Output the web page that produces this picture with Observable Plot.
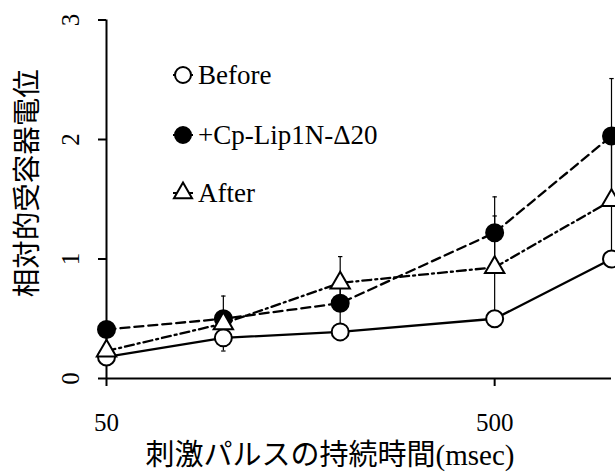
<!DOCTYPE html>
<html>
<head>
<meta charset="utf-8">
<script src="https://cdn.jsdelivr.net/npm/d3@7"></script>
<script src="https://cdn.jsdelivr.net/npm/@observablehq/plot@0.6"></script>
<style>
  html, body { margin: 0; padding: 0; background: #fff; }
  #wrap { position: relative; width: 615px; height: 472px; overflow: hidden; }
  #legend { position: absolute; left: 0; top: 0; pointer-events: none; }
  text { font-family: "Liberation Serif", "Noto Sans CJK JP", serif; }
</style>
</head>
<body>
<div id="wrap"></div>
<script>
// ---- data ----
const durations = [50, 100, 200, 500, 1000];           // msec (log axis)
const seriesNames = ["Before", "+Cp-Lip1N-Δ20", "After"];
const beforeValues = [0.18, 0.34, 0.39, 0.50, 1.00];
const cpValues     = [0.41, 0.50, 0.63, 1.22, 2.03];
const afterValues  = [0.23, 0.46, 0.80, 0.93, 1.49];
const beforeErrors = [0, 0, 0, 0, 0];
const cpErrors     = [0, 0, 0.17, 0.30, 0.48];
const afterErrors  = [0, 0.23, 0.22, 0.43, 0.49];
const xTickValues = [50, 500];
const yTickValues = [0, 1, 2, 3];
const xLabel = "刺激パルスの持続時間(msec)";
const yLabel = "相対的受容器電位";

const valueSets = [beforeValues, cpValues, afterValues];
const errorSets = [beforeErrors, cpErrors, afterErrors];
const rows = seriesNames.flatMap((s, i) =>
  durations.map((x, j) => ({series: s, x, y: valueSets[i][j], err: errorSets[i][j]})));
const errRows = rows.filter(d => d.err > 0);
const capRows = errRows.flatMap(d => [{x: d.x, y: d.y - d.err}, {x: d.x, y: d.y + d.err}]);

const styles = {
  "Before":        {dash: null,      fill: "white", symbol: "circle",   r: 8.5},
  "+Cp-Lip1N-Δ20": {dash: "9,5",     fill: "black", symbol: "circle",   r: 8.5},
  "After":         {dash: "9,4,2,4", fill: "white", symbol: "triangle", r: 7.2}
};

const capSymbol = {
  draw(ctx, size) {
    const w = Math.sqrt(size / Math.PI);
    ctx.moveTo(-w, 0); ctx.lineTo(w, 0);
  }
};

const FONT = '"Liberation Serif", "Noto Sans CJK JP", serif';

const chart = Plot.plot({
  width: 615,
  height: 472,
  marginLeft: 106,
  marginRight: 4,
  marginTop: 19.5,
  marginBottom: 94,
  style: {fontFamily: FONT, background: "white", color: "black"},
  x: {type: "log", domain: [durations[0], durations[durations.length - 1]]},
  y: {domain: [yTickValues[0], yTickValues[yTickValues.length - 1]]},
  marks: [
    Plot.axisX({ticks: xTickValues, tickFormat: d => String(d), tickSize: 8, tickPadding: 27,
                strokeWidth: 2, fontSize: 25, label: null}),
    Plot.axisY({ticks: yTickValues, tickFormat: d => String(d), tickSize: 8, tickPadding: 20,
                tickRotate: -90, strokeWidth: 2, fontSize: 25, label: null}),
    Plot.ruleY([yTickValues[0]], {stroke: "black", strokeWidth: 2}),
    Plot.ruleX([durations[0]], {stroke: "black", strokeWidth: 2}),
    Plot.text([xLabel], {frameAnchor: "bottom", dy: 77, dx: -29, fontSize: 29, lineAnchor: "middle", textAnchor: "middle"}),
    Plot.text([yLabel], {frameAnchor: "left", dx: -79, dy: -16, rotate: -90, fontSize: 28.5, lineAnchor: "middle", textAnchor: "middle"}),
    ...seriesNames.map(s => Plot.line(rows.filter(d => d.series === s), {
      x: "x", y: "y", stroke: "black", strokeWidth: 2.3,
      strokeDasharray: styles[s].dash ?? undefined
    })),
    Plot.ruleX(errRows, {x: "x", y1: d => d.y - d.err, y2: d => d.y + d.err, stroke: "black", strokeWidth: 1.2}),
    Plot.dot(capRows, {x: "x", y: "y", symbol: capSymbol, r: 2.2, stroke: "black", strokeWidth: 1.2}),
    ...seriesNames.map(s => Plot.dot(rows.filter(d => d.series === s), {
      x: "x", y: "y", symbol: styles[s].symbol, r: styles[s].r,
      fill: styles[s].fill, stroke: "black", strokeWidth: 2
    }))
  ]
});

const wrap = document.getElementById("wrap");
wrap.appendChild(chart);

// ---- legend overlay (inside the plot area, top-left) ----
const legend = d3.select(wrap).append("svg")
  .attr("id", "legend").attr("width", 615).attr("height", 472);
const items = legend.selectAll("g").data(seriesNames).join("g")
  .attr("transform", (d, i) => `translate(183, ${[75, 135, 193][i]})`);
items.append("line").attr("x1", -10).attr("x2", 10).attr("stroke", "black").attr("stroke-width", 2);
items.append("path")
  .attr("d", d => {
    const st = styles[d];
    const type = st.symbol === "triangle" ? d3.symbolTriangle : d3.symbolCircle;
    return d3.symbol(type, Math.PI * (st.r - 0.5) * (st.r - 0.5))();
  })
  .attr("fill", d => styles[d].fill).attr("stroke", "black").attr("stroke-width", 2);
items.append("text")
  .attr("x", 15).attr("y", 9)
  .attr("font-size", 27)
  .attr("font-family", FONT)
  .text(d => d);
</script>
</body>
</html>
